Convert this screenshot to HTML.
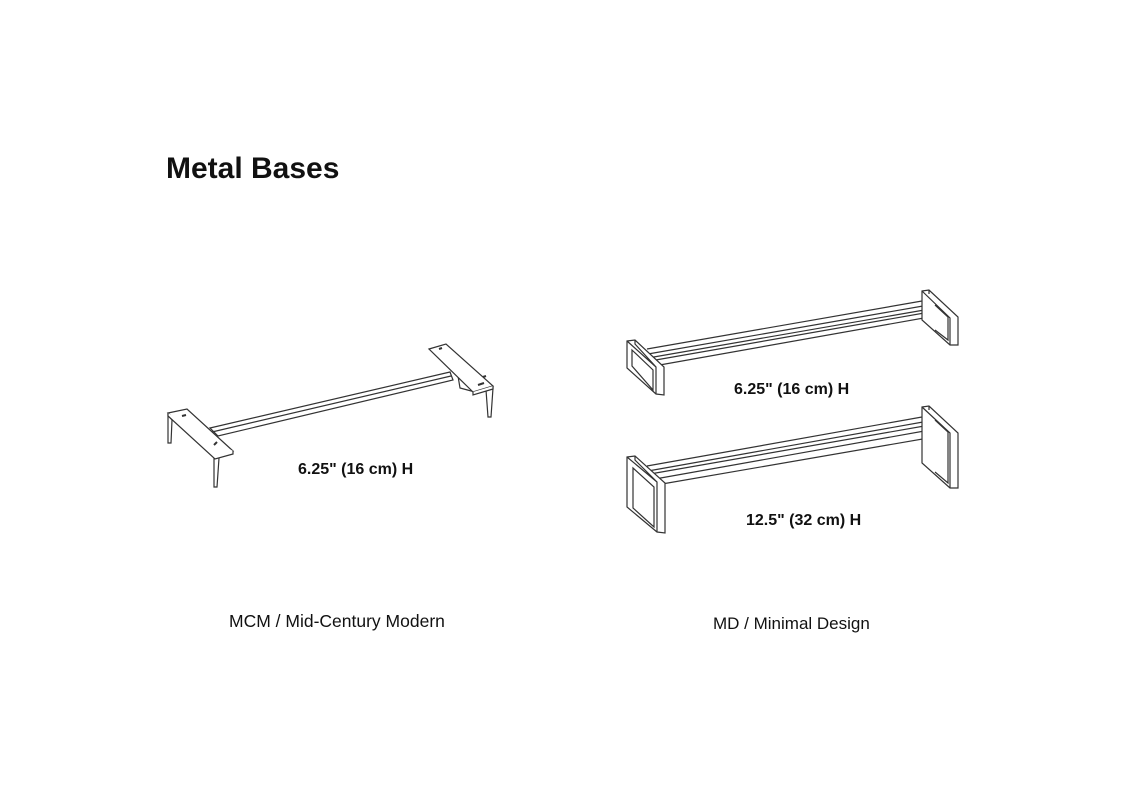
<!DOCTYPE html>
<html><head><style>
body{margin:0;width:1136px;height:800px;background:#fff;position:relative;overflow:hidden;font-family:"Liberation Sans",sans-serif}
.t{position:absolute;white-space:nowrap;color:#111}
</style></head><body>
<div class="t" style="left:166px;top:152px;font-size:30px;font-weight:bold">Metal Bases</div>
<div class="t" style="left:298px;top:461px;font-size:16px;font-weight:bold">6.25" (16 cm) H</div>
<div class="t" style="left:734px;top:381px;font-size:16px;font-weight:bold">6.25" (16 cm) H</div>
<div class="t" style="left:746px;top:512px;font-size:16px;font-weight:bold">12.5" (32 cm) H</div>
<div class="t" style="left:229px;top:611px;font-size:17.5px">MCM / Mid-Century Modern</div>
<div class="t" style="left:713px;top:614px;font-size:17px">MD / Minimal Design</div>
<svg width="1136" height="800" style="position:absolute;left:0;top:0" fill="#fff" stroke="#333" stroke-width="1.2">
<!-- MCM -->
<path d="M210,428 L450,372 L453,380 L218,436 Z M212,432 L451,376"/>
<path d="M168,415 L168,443 L171,443 L172,420 Z"/>
<path d="M214,456 L214,487 L217,487 L219,458 Z"/>
<path d="M486,390 L488,417 L491,417 L493,388 Z"/>
<path d="M457,370 L460,388 L475,392 L473,392 Z"/>
<polygon points="168,413 187,409 233,451 215,456"/>
<path d="M168,413 L168,416 L215,459 L233,454 L233,451" />
<polygon points="429,349 446,344 493,386 473,392"/>
<path d="M473,392 L473,395 L493,389 L493,386"/>
<g stroke-width="2"><path d="M182,416 l4,-1 M214,445 l3,-3 M439,349 l3,-1 M478,385 l6,-2 M483,377 l3,-1"/></g>
<!-- MD top -->
<path d="M647,349 L922,301 M648,354 L923,306 M648,358 L930,309 M654,366 L935,316 M650,361 L930,312" fill="none"/>
<polygon points="627,341 635,340 664,367 664,395 656,394 627,368"/>
<path d="M635,340 L635,344 L656,367 L656,394 M627,341 L656,367 M632,350 L653,370 L653,390 L632,366 Z" fill="none"/>
<polygon points="922,291 929,290 958,317 958,345 950,345 922,320"/>
<path d="M922,291 L950,318 L950,345 M929,290 L929,294 M935,305 L948,317 L948,340 L935,330" fill="none"/>
<!-- MD bottom -->
<path d="M647,466 L922,417 M648,471 L923,422 M655,479 L930,430 M662,484 L940,436 M650,474 L930,425" fill="none"/>
<polygon points="627,457 635,456 665,483 665,533 657,532 627,507"/>
<path d="M635,456 L635,460 L657,482 L657,532 M627,457 L657,482 M633,468 L654,487 L654,527 L633,508 Z" fill="none"/>
<polygon points="922,407 929,406 958,433 958,488 950,488 922,463"/>
<path d="M922,407 L950,433 L950,488 M929,406 L929,410 M935,420 L948,432 L948,483 L935,472" fill="none"/>
</svg>
</body></html>
